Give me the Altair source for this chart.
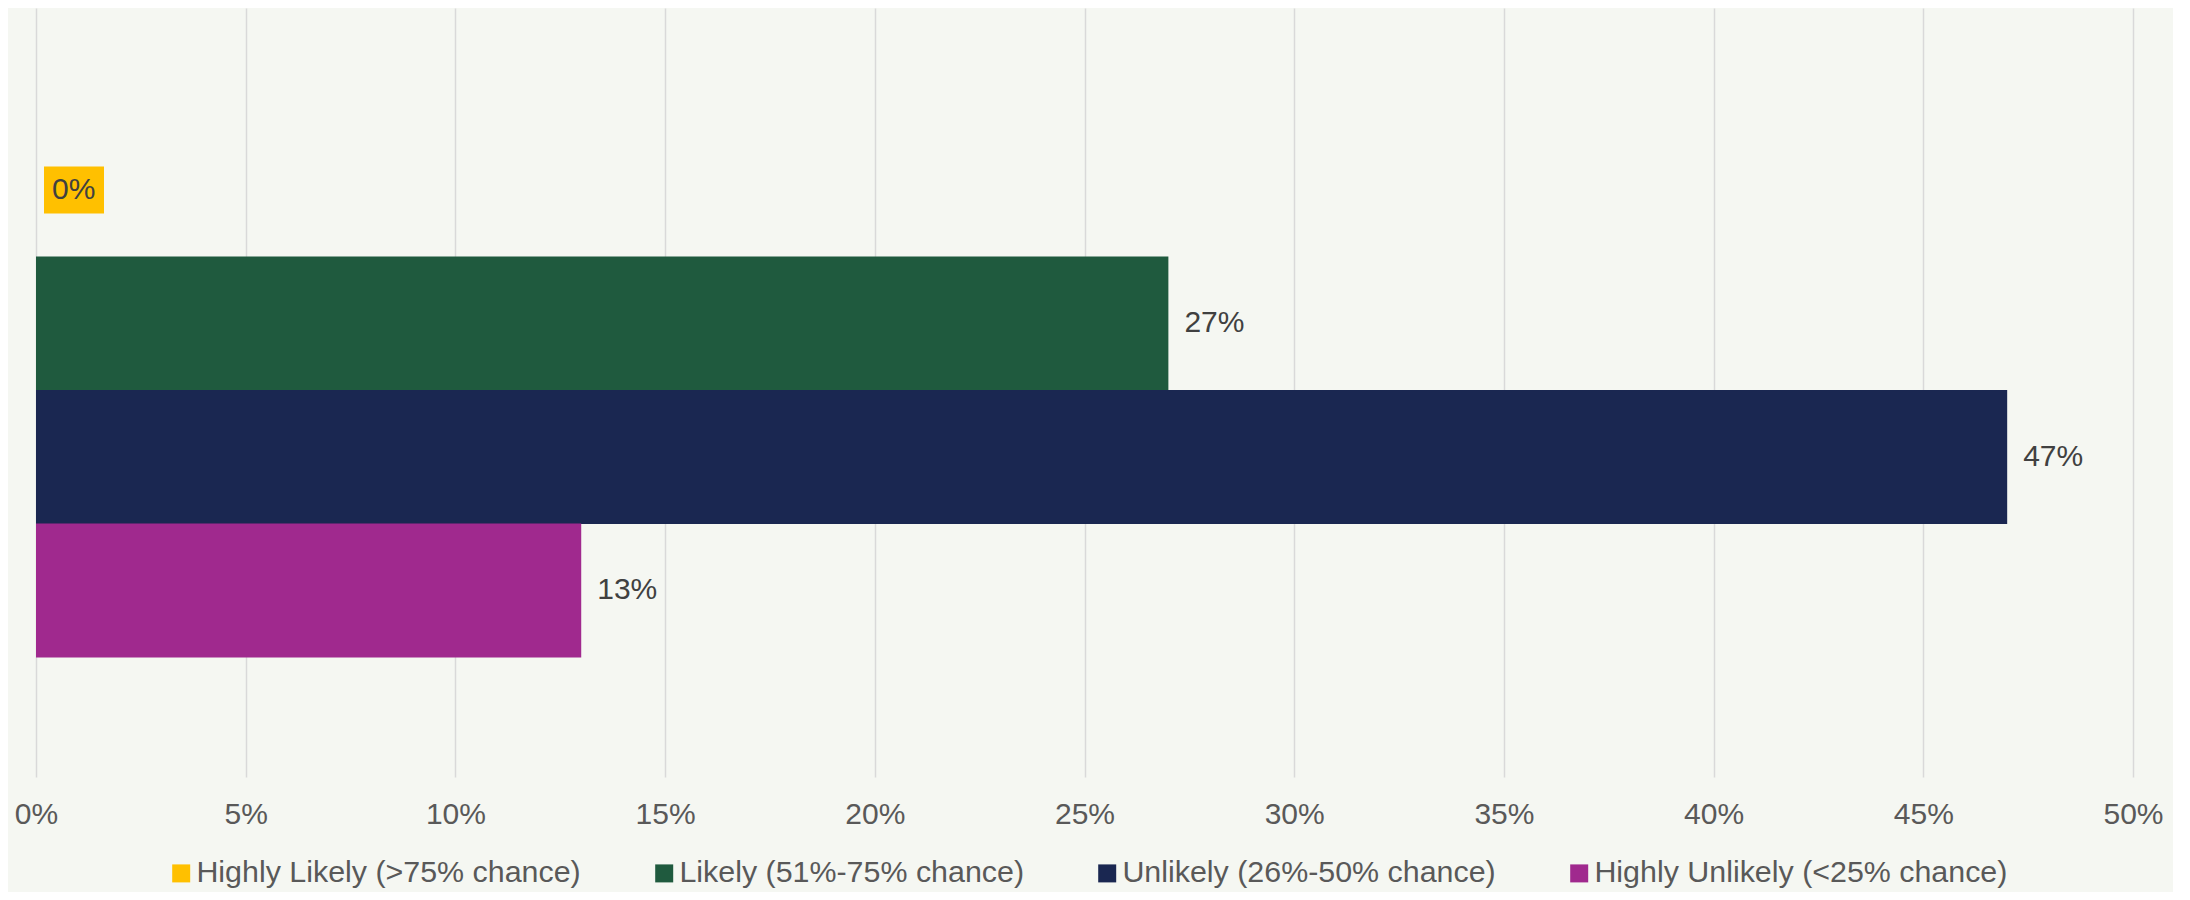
import altair as alt
import pandas as pd

categories = [
    "Highly Likely (>75% chance)",
    "Likely (51%-75% chance)",
    "Unlikely (26%-50% chance)",
    "Highly Unlikely (<25% chance)",
]
values = [0.0, 0.27, 0.47, 0.13]
colors = ["#FFC000", "#1F5A3E", "#1A2751", "#A0298E"]
tick_values = [0, 0.05, 0.10, 0.15, 0.20, 0.25, 0.30, 0.35, 0.40, 0.45, 0.50]
highlighted_label = "Highly Likely (>75% chance)"

df = pd.DataFrame({"category": categories, "value": values})

FONT = "Liberation Sans"

y_enc = alt.Y(
    "category:N",
    sort=categories,
    axis=None,
    scale=alt.Scale(paddingInner=0, paddingOuter=0.88, align=0.49),
)
x_enc = alt.X(
    "value:Q",
    scale=alt.Scale(domain=[0, 0.5], nice=False),
    axis=alt.Axis(
        values=tick_values,
        format=".0%",
        title=None,
        domain=False,
        ticks=False,
        grid=True,
        gridColor="#D9D9D9",
        gridWidth=1.5,
        labelFont=FONT,
        labelFontSize=30,
        labelColor="#595959",
        labelPadding=22,
        labelFlush=False,
    ),
)

bars = alt.Chart(df).mark_bar(size=134).encode(
    x=x_enc,
    y=y_enc,
    color=alt.Color(
        "category:N",
        sort=categories,
        scale=alt.Scale(domain=categories, range=colors),
        title=None,
        legend=alt.Legend(
            orient="none",
            direction="horizontal",
            legendX=130,
            legendY=850,
            symbolType="square",
            symbolSize=324,
            symbolStrokeWidth=0,
            labelFont=FONT,
            labelFontSize=30.4,
            labelColor="#595959",
            labelLimit=800,
            labelOffset=0,
            columnPadding=68,
            columns=4,
        ),
    ),
)

box = (
    alt.Chart(df)
    .transform_filter(alt.datum.category == highlighted_label)
    .mark_bar(size=47, color="#FFC000", xOffset=8, x2Offset=68)
    .encode(x="value:Q", x2="value:Q", y=alt.Y("category:N", sort=categories))
)

labels = alt.Chart(df).mark_text(
    align="left", baseline="middle", dx=16, font=FONT, fontSize=30, color="#404040"
).encode(
    x="value:Q",
    y=alt.Y("category:N", sort=categories),
    text=alt.Text("value:Q", format=".0%"),
)

chart = (
    alt.layer(bars, box, labels)
    .properties(
        width=2097,
        height=769,
        background="#F5F7F2",
        padding={"left": 28, "top": 0, "right": 40, "bottom": 115},
        autosize=alt.AutoSizeParams(type="none"),
    )
    .configure_view(stroke=None)
)

chart.save("out.html", embed_options={"renderer": "svg", "actions": False})
